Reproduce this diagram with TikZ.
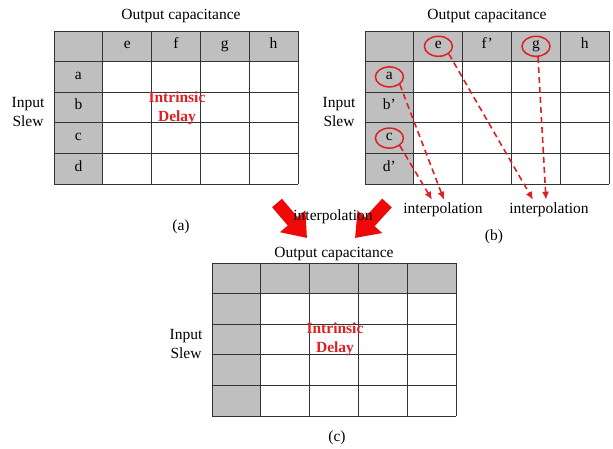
\documentclass[tikz,border=0pt]{standalone}
\usepackage{fontspec}
\setmainfont{Liberation Serif}
\usetikzlibrary{shapes.geometric,arrows.meta}

\definecolor{hdrgray}{RGB}{191,191,191}
\definecolor{lutred}{RGB}{222,32,36}
\definecolor{bigred}{RGB}{238,8,8}

\tikzset{
  hdr/.style={fill=hdrgray},
  cellline/.style={draw=black!80, line width=0.9pt},
  lbl/.style={font=\fontsize{15.5}{19}\selectfont, inner sep=3pt},
  celltxt/.style={lbl, text height=0.68em, text depth=0.2em},
  delaytxt/.style={font=\fontsize{15.5}{19}\selectfont\bfseries, text=lutred, align=center},
  ring/.style={celltxt, ellipse, draw=lutred, line width=1.5pt, minimum width=28pt, minimum height=20pt, inner sep=0pt},
  interp/.style={draw=lutred, line width=1.6pt, dash pattern=on 6pt off 4pt, -{Latex[length=8pt,width=7pt]}},
  bigarrow/.style={draw=bigred, line width=13pt, -{Triangle[length=22pt,width=32pt]}}
}

% grey header row and column plus the grid of one table
\newcommand\lutgrid[2]{%
  \begin{scope}[shift={(#1,#2)}]
    \fill[hdr] (0,0) rectangle (244,30.6);
    \fill[hdr] (0,0) rectangle (48.8,153);
    \foreach \i in {0,...,5} \draw[cellline] (\i*48.8,0) -- (\i*48.8,153);
    \foreach \j in {0,...,5} \draw[cellline] (0,\j*30.6) -- (244,\j*30.6);
  \end{scope}}

\begin{document}
\begin{tikzpicture}[x=1pt, y=-1pt]
  \useasboundingbox (0,0) rectangle (613,448);

  % table (a)
  \lutgrid{54}{31}
  \node[lbl] (a-title) at (181,16) {Output capacitance};
  \node[lbl, align=center] (a-slew) at (28,112) {Input\\Slew};
  \foreach \c [count=\k] in {e,f,g,h}
    \node[celltxt] (a-\c) at (54+48.8*\k+24.4,46.3) {\c};
  \foreach \r [count=\k] in {a,b,c,d}
    \node[celltxt] (a-\r) at (78.4,31+30.6*\k+15.3) {\r};
  \node[delaytxt] (a-delay) at (177,108) {Intrinsic\\Delay};
  \node[lbl] (a-cap) at (181,227) {(a)};

  % table (b)
  \lutgrid{365}{31}
  \node[lbl] (b-title) at (487,16) {Output capacitance};
  \node[lbl, align=center] (b-slew) at (339,112) {Input\\Slew};
  \node[ring] (b-e) at (438.4,46.3) {e};
  \node[celltxt] (b-f) at (487.2,46.3) {f'};
  \node[ring] (b-g) at (536,46.3) {g};
  \node[celltxt] (b-h) at (584.8,46.3) {h};
  \node[ring] (b-a) at (389.4,76.9) {a};
  \node[celltxt] (b-b) at (389.4,107.5) {b'};
  \node[ring] (b-c) at (389.4,138.1) {c};
  \node[celltxt] (b-d) at (389.4,168.7) {d'};
  \node[lbl] (ipl1) at (443,210) {interpolation};
  \node[lbl] (ipl2) at (549,210) {interpolation};
  \draw[interp] (b-a.south east) -- ([xshift=1pt]ipl1.north);
  \draw[interp] (b-c.south east) -- ([xshift=-11pt]ipl1.north);
  \draw[interp] (b-e.south east) -- ([xshift=-16pt]ipl2.north);
  \draw[interp] ([xshift=2pt]b-g.south) -- ([xshift=-3pt]ipl2.north);
  \node[lbl] (b-cap) at (494,237) {(b)};

  % merge arrows
  \coordinate (fromA) at (277,203);
  \coordinate (toA) at (307,238);
  \coordinate (fromB) at (387,203);
  \coordinate (toB) at (355,238);
  \draw[bigarrow] (fromA) -- (toA);
  \draw[bigarrow] (fromB) -- (toB);
  \node[lbl] (ipl0) at (333,217) {interpolation};

  % table (c)
  \lutgrid{212}{263}
  \node[lbl] (c-title) at (334,254) {Output capacitance};
  \node[lbl, align=center] (c-slew) at (186,344) {Input\\Slew};
  \node[delaytxt] (c-delay) at (335,339) {Intrinsic\\Delay};
  \node[lbl] (c-cap) at (337,438) {(c)};
\end{tikzpicture}
\end{document}
